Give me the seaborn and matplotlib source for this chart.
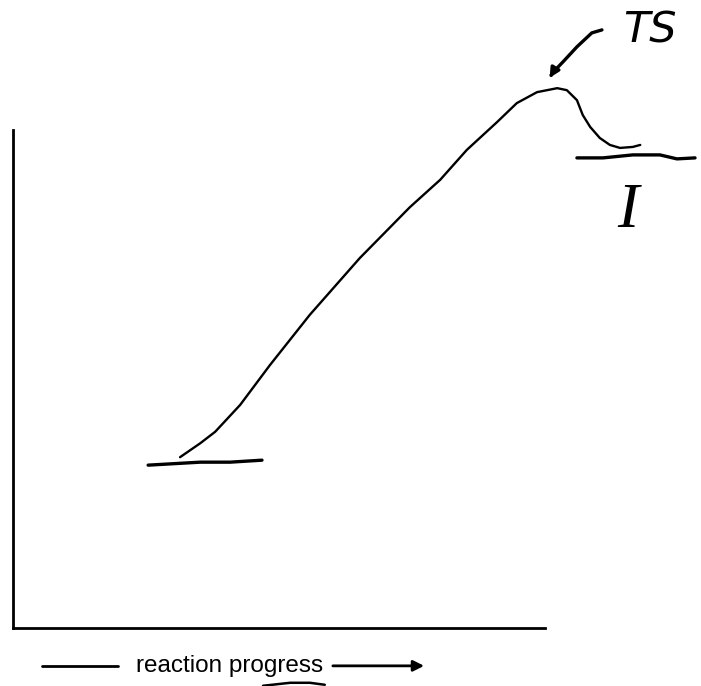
import matplotlib
matplotlib.use("Agg")
import matplotlib.pyplot as plt
import seaborn as sns

# reaction coordinate diagram (hand drawn look), axes run 0..1 in both directions
curve_x = [0.314, 0.352, 0.380, 0.427, 0.483, 0.558, 0.652, 0.746, 0.803, 0.853,
           0.910, 0.947, 0.985, 1.023, 1.041, 1.060, 1.071, 1.085, 1.103, 1.122,
           1.141, 1.165, 1.179]
curve_y = [0.343, 0.371, 0.394, 0.448, 0.528, 0.629, 0.743, 0.845, 0.900, 0.960,
           1.016, 1.054, 1.076, 1.084, 1.080, 1.060, 1.030, 1.006, 0.984, 0.970,
           0.964, 0.966, 0.970]

reactant_x = [0.254, 0.352, 0.408, 0.468]
reactant_y = [0.327, 0.333, 0.333, 0.337]

product_x = [1.060, 1.109, 1.165, 1.216, 1.248, 1.282]
product_y = [0.944, 0.944, 0.950, 0.950, 0.942, 0.944]

ts_arrow_x = [1.107, 1.088, 1.060, 1.034, 1.015, 1.006]
ts_arrow_y = [1.201, 1.195, 1.167, 1.137, 1.116, 1.100]

# stray pen stroke under the axis label
stroke_x = [0.470, 0.521, 0.558, 0.586]
stroke_y = [-0.116, -0.110, -0.110, -0.114]

labels = {"TS": (1.197, 1.200), "I": (1.156, 0.835)}
xlabel = "reaction progress"

sns.set_style("white")
plt.rcParams["text.color"] = "black"
fig = plt.figure(figsize=(7.01, 6.86), dpi=100)
ax = fig.add_axes([13 / 701, 58 / 686, 532 / 701, 498 / 686])
ax.set_xlim(0, 1)
ax.set_ylim(0, 1)
ax.set_xticks([])
ax.set_yticks([])
for s in ["top", "right"]:
    ax.spines[s].set_visible(False)
for s in ["left", "bottom"]:
    ax.spines[s].set_color("black")
    ax.spines[s].set_linewidth(2)

line_kw = dict(sort=False, estimator=None, color="black", ax=ax, clip_on=False,
               solid_joinstyle="round", solid_capstyle="round")
sns.lineplot(x=curve_x, y=curve_y, linewidth=1.7, **line_kw)
sns.lineplot(x=reactant_x, y=reactant_y, linewidth=2.4, **line_kw)
sns.lineplot(x=product_x, y=product_y, linewidth=2.4, **line_kw)
sns.lineplot(x=ts_arrow_x[:-1], y=ts_arrow_y[:-1], linewidth=2.4, **line_kw)
sns.lineplot(x=stroke_x, y=stroke_y, linewidth=1.8, **line_kw)
ax.annotate("", xy=(ts_arrow_x[-1], ts_arrow_y[-1]), xytext=(ts_arrow_x[-2], ts_arrow_y[-2]),
            annotation_clip=False,
            arrowprops=dict(arrowstyle="-|>", color="black", lw=2.4, mutation_scale=14))

ax.text(*labels["TS"], "TS", fontsize=31, style="italic", family="DejaVu Sans",
        ha="center", va="center", fontweight="light", color="black")
ax.text(*labels["I"], "I", fontsize=46, style="italic", family="Liberation Serif",
        ha="center", va="center", color="black")

# x axis label with arrows
ax.text(0.408, -0.088, xlabel, fontsize=17.5, family="Liberation Sans",
        ha="center", va="baseline", color="black")
sns.lineplot(x=[0.055, 0.197], y=[-0.076, -0.076], linewidth=2, sort=False,
             estimator=None, color="black", ax=ax, clip_on=False)
ax.annotate("", xy=(0.778, -0.076), xytext=(0.596, -0.076), annotation_clip=False,
            arrowprops=dict(arrowstyle="-|>", color="black", lw=2, mutation_scale=16))

fig.savefig("out.png", dpi=100)
